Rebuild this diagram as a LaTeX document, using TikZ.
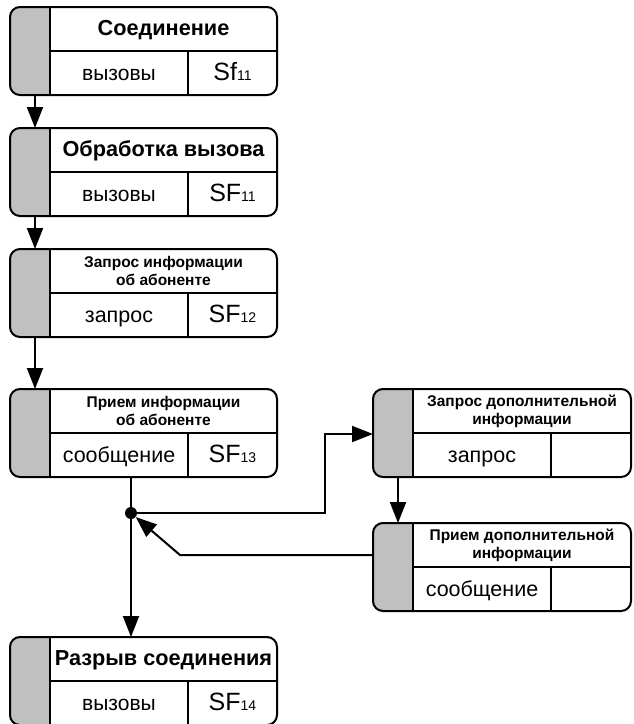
\documentclass[tikz,border=0pt]{standalone}
\usepackage{fontspec}
\setmainfont{Liberation Sans}
\usetikzlibrary{arrows.meta,calc}
\definecolor{boxgray}{HTML}{C0C0C0}

\tikzset{
  frame/.style={draw, line width=2pt, rounded corners=10pt, minimum height=88pt,
    inner sep=0pt, outer sep=0pt, anchor=north west},
  rule/.style={line width=2pt},
  plain/.style={line width=2pt},
  link/.style={line width=2pt, -{Triangle[length=21pt,width=16pt]}},
  label/.style={inner sep=0pt, align=center},
  bigtitle/.style={font=\fontsize{21.7}{24}\selectfont\bfseries},
  smalltitle/.style={font=\fontsize{15.5}{18}\selectfont\bfseries},
  calltext/.style={font=\fontsize{21}{22}\selectfont},
  celltext/.style={font=\fontsize{21.5}{24}\selectfont},
  codetext/.style={font=\fontsize{25}{26}\selectfont},
}

% code label with a small index sitting on the baseline
\newcommand\idxlabel[2]{#1{\fontsize{14}{14}\selectfont#2}}

% process block: name, x, y, width, title style, title, left style, left cell, right cell
\newcommand\procbox[9]{%
  \coordinate (#1-nw) at (#2,#3);
  \fill[boxgray] ($(#1-nw)+(40,0)$) [rounded corners=10pt] -- (#1-nw)
    -- ($(#1-nw)+(0,88)$) [sharp corners] -- ($(#1-nw)+(40,88)$) -- cycle;
  \node[frame, minimum width=#4pt] (#1) at (#1-nw) {};
  \draw[rule] ($(#1-nw)+(40,0)$) -- ($(#1-nw)+(40,88)$);
  \draw[rule] ($(#1-nw)+(40,44)$) -- ($(#1-nw)+(#4,44)$);
  \draw[rule] ($(#1-nw)+(178,44)$) -- ($(#1-nw)+(178,88)$);
  \node[label, #5] (#1-t) at ($(#1-nw)+({(40+#4)/2},22)$) {#6};
  \node[label, #7, anchor=base] (#1-l) at ($(#1-nw)+(109,73)$) {#8};
  \node[label, codetext, anchor=base] (#1-r) at ($(#1-nw)+({(178+#4)/2},73)$) {#9};
}

\begin{document}
\begin{tikzpicture}[x=1pt, y=-1pt]
  \useasboundingbox (0,0) rectangle (633,724);

  \procbox{n1}{10}{7}{267}{bigtitle, anchor=base, yshift=-6.5pt}{Соединение}{calltext}{вызовы}{\idxlabel{Sf}{11}}
  \procbox{n2}{10}{128}{267}{bigtitle, anchor=base, yshift=-6.5pt}{Обработка вызова}{calltext}{вызовы}{\idxlabel{SF}{11}}
  \procbox{n3}{10}{249}{267}{smalltitle}{Запрос информации\\об абоненте}{celltext}{запрос}{\idxlabel{SF}{12}}
  \procbox{n4}{10}{389}{267}{smalltitle}{Прием информации\\об абоненте}{celltext}{сообщение}{\idxlabel{SF}{13}}
  \procbox{n5}{10}{637}{267}{bigtitle, anchor=base, yshift=-6.5pt}{Разрыв соединения}{calltext}{вызовы}{\idxlabel{SF}{14}}
  \procbox{na}{373}{389}{258}{smalltitle}{Запрос дополнительной\\информации}{celltext}{запрос}{}
  \procbox{nb}{373}{523}{258}{smalltitle}{Прием дополнительной\\информации}{celltext}{сообщение}{}

  % junction point below the fourth block
  \node[circle, fill, inner sep=0pt, minimum size=12pt] (j) at (131,513) {};

  % main chain
  \draw[link] ($(n1.south west)+(25,0)$) -- ($(n2.north west)+(25,0)$);
  \draw[link] ($(n2.south west)+(25,0)$) -- ($(n3.north west)+(25,0)$);
  \draw[link] ($(n3.south west)+(25,0)$) -- ($(n4.north west)+(25,0)$);
  \draw[plain] (j |- n4.south) -- (j.center);
  \draw[link] (j.center) -- (j |- n5.north);

  % side loop for additional information
  \coordinate (ain) at ($(na.north west)+(0,45)$);
  \draw[link] (j.center) -| ($(ain)+(-48,0)$) -- (ain);
  \draw[link] ($(na.south west)+(25,0)$) -- ($(nb.north west)+(25,0)$);
  \coordinate (bout) at ($(nb.north west)+(0,32)$);
  \draw[link] (bout) -- ($(bout)+(-193,0)$) -- (j);
\end{tikzpicture}
\end{document}
